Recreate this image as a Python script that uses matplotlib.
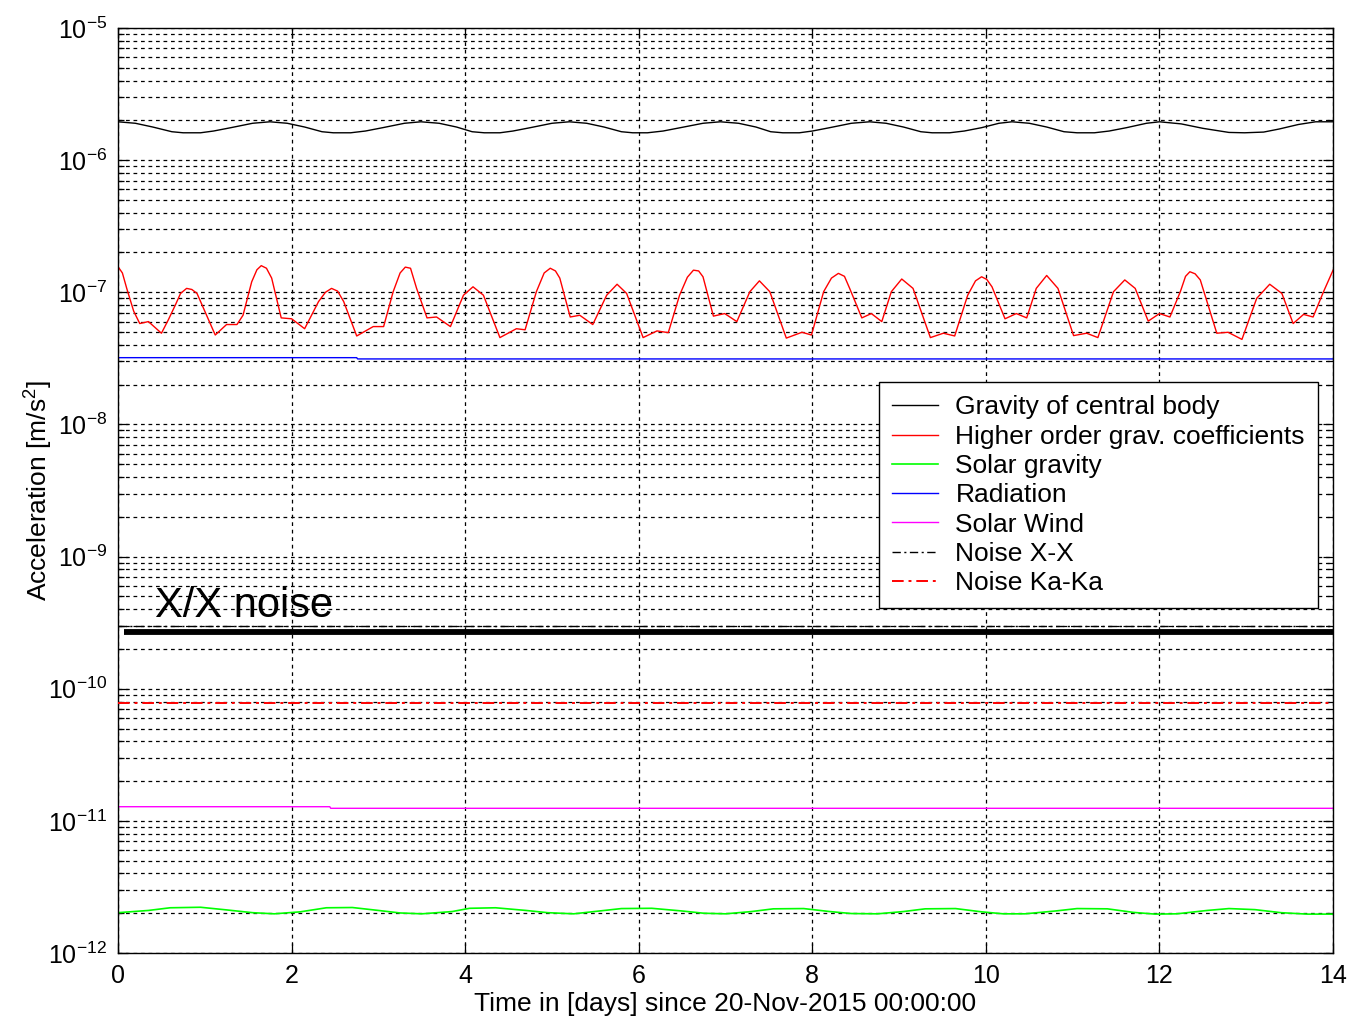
import numpy as np
import matplotlib
matplotlib.use("Agg")
import matplotlib.pyplot as plt
from matplotlib.ticker import LogLocator, FixedLocator

plt.rcParams['font.family'] = ['Liberation Sans', 'DejaVu Sans']
plt.rcParams['mathtext.default'] = 'regular'
plt.rcParams['axes.unicode_minus'] = False

# gravity of central body
grav_days = [0.00, 0.20, 0.40, 0.62, 0.75, 0.95, 1.10, 1.30, 1.55, 1.75, 1.95, 2.15, 2.35, 2.48,
             2.68, 2.85, 3.05, 3.30, 3.49, 3.70, 3.90, 4.08, 4.22, 4.40, 4.55, 4.75, 5.00, 5.20,
             5.40, 5.60, 5.80, 5.93, 6.10, 6.28, 6.48, 6.74, 6.94, 7.15, 7.35, 7.52, 7.66, 7.85,
             8.00, 8.20, 8.45, 8.66, 8.85, 9.05, 9.25, 9.38, 9.58, 9.75, 9.95, 10.15, 10.30,
             10.50, 10.70, 10.90, 11.05, 11.25, 11.42, 11.62, 11.85, 12.00, 12.25, 12.50, 12.80,
             12.98, 13.20, 13.38, 13.60, 13.80, 14.00]
grav_vals = [1.95e-6, 1.90e-6, 1.78e-6, 1.64e-6, 1.61e-6, 1.61e-6, 1.66e-6, 1.76e-6, 1.90e-6,
             1.95e-6, 1.90e-6, 1.78e-6, 1.64e-6, 1.61e-6, 1.61e-6, 1.66e-6, 1.76e-6, 1.90e-6,
             1.95e-6, 1.90e-6, 1.78e-6, 1.64e-6, 1.61e-6, 1.61e-6, 1.66e-6, 1.76e-6, 1.90e-6,
             1.95e-6, 1.90e-6, 1.78e-6, 1.64e-6, 1.61e-6, 1.61e-6, 1.66e-6, 1.76e-6, 1.90e-6,
             1.95e-6, 1.90e-6, 1.78e-6, 1.64e-6, 1.61e-6, 1.61e-6, 1.66e-6, 1.76e-6, 1.90e-6,
             1.95e-6, 1.90e-6, 1.78e-6, 1.64e-6, 1.61e-6, 1.61e-6, 1.66e-6, 1.76e-6, 1.90e-6,
             1.95e-6, 1.90e-6, 1.78e-6, 1.64e-6, 1.61e-6, 1.61e-6, 1.66e-6, 1.76e-6, 1.90e-6,
             1.95e-6, 1.88e-6, 1.74e-6, 1.62e-6, 1.61e-6, 1.63e-6, 1.72e-6, 1.86e-6, 1.95e-6,
             1.95e-6]

# higher order gravity coefficients
hog_days = [0.00, 0.05, 0.10, 0.18, 0.25, 0.35, 0.50, 0.58, 0.66, 0.72, 0.79, 0.85, 0.91, 1.02,
            1.12, 1.25, 1.37, 1.44, 1.54, 1.60, 1.65, 1.71, 1.77, 1.88, 2.00, 2.15, 2.31, 2.39,
            2.46, 2.53, 2.60, 2.75, 2.94, 3.06, 3.17, 3.25, 3.31, 3.37, 3.44, 3.56, 3.67, 3.83,
            3.98, 4.09, 4.21, 4.40, 4.59, 4.69, 4.82, 4.91, 4.98, 5.04, 5.09, 5.21, 5.32, 5.47,
            5.63, 5.75, 5.86, 6.05, 6.21, 6.34, 6.47, 6.56, 6.63, 6.69, 6.74, 6.86, 6.99, 7.13,
            7.28, 7.39, 7.51, 7.70, 7.88, 7.99, 8.13, 8.22, 8.30, 8.37, 8.43, 8.57, 8.68, 8.80,
            8.91, 9.03, 9.16, 9.36, 9.51, 9.64, 9.79, 9.88, 9.95, 10.01, 10.07, 10.22, 10.35,
            10.47, 10.58, 10.70, 10.83, 11.01, 11.16, 11.29, 11.47, 11.60, 11.72, 11.87, 12.00,
            12.12, 12.24, 12.30, 12.35, 12.41, 12.47, 12.66, 12.79, 12.95, 13.12, 13.27, 13.41,
            13.54, 13.66, 13.77, 13.89, 14.00]
hog_vals = [1.56e-7, 1.40e-7, 1.07e-7, 7.2e-8, 5.8e-8, 6.0e-8, 4.9e-8, 6.2e-8, 8.0e-8, 9.8e-8,
            1.07e-7, 1.05e-7, 9.8e-8, 6.7e-8, 4.75e-8, 5.7e-8, 5.7e-8, 6.7e-8, 1.2e-7, 1.48e-7,
            1.59e-7, 1.52e-7, 1.28e-7, 6.4e-8, 6.3e-8, 5.3e-8, 8.5e-8, 1.0e-7, 1.07e-7, 1.02e-7,
            8.5e-8, 4.67e-8, 5.5e-8, 5.5e-8, 1.01e-7, 1.40e-7, 1.55e-7, 1.52e-7, 1.07e-7, 6.4e-8,
            6.5e-8, 5.5e-8, 9.5e-8, 1.10e-7, 9.5e-8, 4.54e-8, 5.3e-8, 5.2e-8, 1.01e-7, 1.40e-7,
            1.52e-7, 1.45e-7, 1.28e-7, 6.5e-8, 6.7e-8, 5.7e-8, 9.5e-8, 1.15e-7, 9.8e-8, 4.54e-8,
            5.1e-8, 4.95e-8, 9.5e-8, 1.30e-7, 1.47e-7, 1.45e-7, 1.31e-7, 6.6e-8, 6.9e-8, 6.0e-8,
            1.01e-7, 1.22e-7, 1.01e-7, 4.5e-8, 4.98e-8, 4.75e-8, 1.01e-7, 1.28e-7, 1.39e-7,
            1.32e-7, 1.07e-7, 6.4e-8, 6.9e-8, 6.0e-8, 1.01e-7, 1.26e-7, 1.07e-7, 4.54e-8, 4.9e-8,
            4.67e-8, 9.5e-8, 1.22e-7, 1.31e-7, 1.25e-7, 1.10e-7, 6.3e-8, 6.9e-8, 6.4e-8, 1.07e-7,
            1.34e-7, 1.07e-7, 4.7e-8, 4.9e-8, 4.54e-8, 1.01e-7, 1.24e-7, 1.07e-7, 6.05e-8, 6.9e-8,
            6.5e-8, 1.01e-7, 1.32e-7, 1.43e-7, 1.38e-7, 1.24e-7, 4.9e-8, 4.98e-8, 4.4e-8, 9.0e-8,
            1.15e-7, 9.8e-8, 5.8e-8, 6.8e-8, 6.5e-8, 1.01e-7, 1.47e-7]

# solar gravity
sun_days = [0.00, 0.35, 0.60, 0.95, 1.25, 1.55, 1.80, 2.10, 2.40, 2.70, 3.00, 3.25, 3.50, 3.85,
            4.05, 4.35, 4.70, 4.95, 5.25, 5.80, 6.15, 6.50, 6.75, 7.00, 7.30, 7.55, 7.90, 8.20,
            8.45, 8.75, 9.05, 9.30, 9.65, 9.95, 10.20, 10.45, 10.80, 11.05, 11.40, 11.70, 11.95,
            12.20, 12.55, 12.80, 13.10, 13.40, 13.70, 14.00]
sun_vals = [2.02e-12, 2.10e-12, 2.20e-12, 2.22e-12, 2.12e-12, 2.02e-12, 1.98e-12, 2.05e-12,
            2.20e-12, 2.21e-12, 2.10e-12, 2.01e-12, 1.98e-12, 2.06e-12, 2.18e-12, 2.20e-12,
            2.10e-12, 2.02e-12, 1.98e-12, 2.17e-12, 2.18e-12, 2.08e-12, 2.00e-12, 1.98e-12,
            2.06e-12, 2.16e-12, 2.17e-12, 2.06e-12, 1.99e-12, 1.98e-12, 2.06e-12, 2.16e-12,
            2.17e-12, 2.05e-12, 1.98e-12, 1.98e-12, 2.08e-12, 2.17e-12, 2.16e-12, 2.03e-12,
            1.97e-12, 1.98e-12, 2.10e-12, 2.17e-12, 2.13e-12, 2.02e-12, 1.97e-12, 1.97e-12]

rad_days = [0.00, 2.75, 2.76, 14.00]
rad_vals = [3.20e-8, 3.20e-8, 3.13e-8, 3.13e-8]

wind_days = [0.00, 2.44, 2.45, 14.00]
wind_vals = [1.28e-11, 1.28e-11, 1.245e-11, 1.245e-11]

noise_days = [0.00, 14.00]
noise_xx = [2.99e-10, 2.99e-10]
noise_kaka = [7.83e-11, 7.83e-11]

xx_band_days = [0.07, 14.00]
xx_band = [2.69e-10, 2.69e-10]

fig = plt.figure(figsize=(13.6, 10.17), dpi=100)
ax = fig.add_axes([0.0868, 0.0629, 0.8934, 0.9096])

ax.plot(grav_days, grav_vals, color='black', lw=1.0, label='Gravity of central body')
ax.plot(hog_days, hog_vals, color='#ff0000', lw=1.0, label='Higher order grav. coefficients')
ax.plot(sun_days, sun_vals, color='#00ff00', lw=1.2, label='Solar gravity')
ax.plot(rad_days, rad_vals, color='#0000ff', lw=1.0, label='Radiation')
ax.plot(wind_days, wind_vals, color='#ff00ff', lw=1.0, label='Solar Wind')
ax.plot(noise_days, noise_xx, color='black', lw=1.0, ls=(0, (6, 2.5, 1.5, 2.5)), label='Noise X-X')
ax.plot(noise_days, noise_kaka, color='#ff0000', lw=1.4, ls=(0, (6, 2.5, 1.5, 2.5)),
        label='Noise Ka-Ka', zorder=3)
ax.plot(xx_band_days, xx_band, color='black', lw=4.2, solid_capstyle='butt')
ax.text(0.43, 3.49e-10, 'X/X noise', fontsize=30, va='baseline', ha='left')

ax.set_yscale('log')
ax.set_xlim(0, 14)
ax.set_ylim(1e-12, 1e-5)
ax.xaxis.set_major_locator(FixedLocator(np.arange(0, 15, 2)))
ax.yaxis.set_major_locator(FixedLocator([1e-12, 1e-11, 1e-10, 1e-9, 1e-8, 1e-7, 1e-6, 1e-5]))
ax.yaxis.set_minor_locator(LogLocator(base=10, subs=np.arange(2, 10), numticks=20))
ax.yaxis.set_minor_formatter(plt.NullFormatter())

ax.grid(True, which='major', axis='both', color='black', lw=0.9, ls=(0, (3, 3)))
ax.grid(True, which='minor', axis='y', color='black', lw=0.9, ls=(0, (3, 3)))

ax.tick_params(which='both', direction='in', top=True, right=True, labelsize=18, width=0.9)
ax.tick_params(which='major', length=7, pad=8)
ax.tick_params(which='minor', length=4)
for s in ax.spines.values():
    s.set_linewidth(1.0)

ax.set_xlabel('Time in [days] since 20-Nov-2015 00:00:00', fontsize=19, labelpad=3)
ax.set_ylabel('Acceleration [m/s$^2$]', fontsize=19, labelpad=-5)

leg = ax.legend(loc='upper right', bbox_to_anchor=(0.9877, 0.617), fontsize=19,
                frameon=True, fancybox=False, edgecolor='black', framealpha=1,
                handlelength=1.75, handletextpad=0.65, labelspacing=0.2, borderpad=0.5,
                borderaxespad=0)
leg.get_frame().set_linewidth(1.0)

fig.savefig('out.png', dpi=100)
